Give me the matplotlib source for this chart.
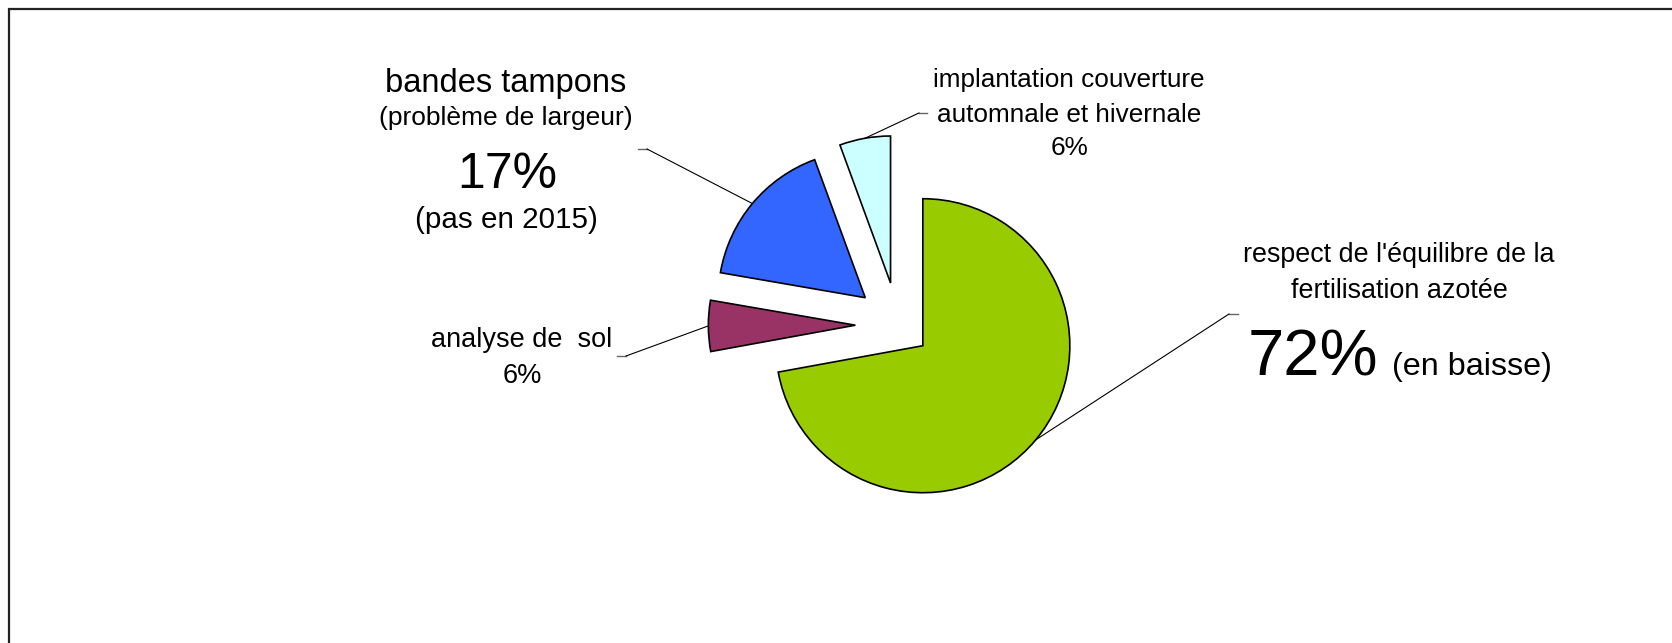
#!/usr/bin/env python3
"""
Camembert des non-conformités (directive nitrates)
"""

import numpy as np
import matplotlib
matplotlib.use("Agg")
import matplotlib.pyplot as plt
from matplotlib.patches import Rectangle

# données (ordre horaire depuis midi)
categories = [
    "respect de l'équilibre de la fertilisation azotée",
    "analyse de sol",
    "bandes tampons",
    "implantation couverture automnale et hivernale",
]
values = [72.2, 5.6, 16.7, 5.6]
pct_labels = ["72%", "6%", "17%", "6%"]
colors = ["#99CC00", "#993366", "#3366FF", "#CCFFFF"]
explode = [0.22, 0.29, 0.29, 0.29]  # fraction du rayon

W, H = 1672, 643
RADIUS = 147
FONT = ["Liberation Sans", "DejaVu Sans"]


def Y(y):
    """coordonnée pixel (depuis le haut) -> coordonnée axe"""
    return H - y


def leader(ax, wedge, x0, x1, y):
    """trait de rappel : petit segment horizontal puis oblique vers l'arc"""
    mid = np.deg2rad((wedge.theta1 + wedge.theta2) / 2)
    cx, cy = wedge.center
    ex = cx + wedge.r * np.cos(mid)
    ey = cy + wedge.r * np.sin(mid)
    ax.plot([x0, x1], [Y(y), Y(y)], color="#666666", lw=1.0)
    ax.plot([x1, ex], [Y(y), ey], color="black", lw=0.8)


def txt(ax, x, y, s, size, ha="center"):
    ax.text(x, Y(y), s, fontsize=size, ha=ha, va="baseline",
            family=FONT, color="black")


def main():
    fig = plt.figure(figsize=(W / 100, H / 100), dpi=100)
    ax = fig.add_axes([0, 0, 1, 1])

    # matplotlib prend explode en unités de données
    wedges, _ = ax.pie(
        values,
        colors=colors,
        explode=[e * RADIUS for e in explode],
        startangle=90,
        counterclock=False,
        center=(898, Y(325)),
        radius=RADIUS,
        wedgeprops=dict(edgecolor="black", linewidth=1.2),
    )

    ax.set_xlim(0, W)
    ax.set_ylim(0, H)
    ax.set_aspect("auto")
    ax.axis("off")

    # cadre (coin haut-gauche seulement visible)
    ax.add_patch(Rectangle((9, -50), W + 100, Y(9) + 50, fill=False,
                           edgecolor="#222222", lw=1.6))

    green, purple, blue, cyan = wedges

    # bandes tampons
    txt(ax, 506, 92, "bandes tampons", 23.5)
    txt(ax, 506, 125, "(problème de largeur)", 19)
    txt(ax, 507, 188, pct_labels[2], 36)
    txt(ax, 506, 228, "(pas en 2015)", 21.3)
    leader(ax, blue, 638, 647, 149)

    # analyse de sol
    txt(ax, 522, 347, "analyse de  sol", 19.5)
    txt(ax, 522, 383, pct_labels[1], 19.5)
    leader(ax, purple, 617, 626, 356)

    # implantation couverture
    txt(ax, 1069, 87, "implantation couverture", 18.8)
    txt(ax, 1069, 122, "automnale et hivernale", 18.8)
    txt(ax, 1069, 155, pct_labels[3], 18.8)
    leader(ax, cyan, 927, 919, 113)

    # fertilisation azotée
    txt(ax, 1399, 262, "respect de l'équilibre de la", 19.4)
    txt(ax, 1399, 298, "fertilisation azotée", 19.4)
    txt(ax, 1248, 375, pct_labels[0], 47, ha="left")
    txt(ax, 1392, 375, "(en baisse)", 23.3, ha="left")
    leader(ax, green, 1238, 1229, 314)

    fig.savefig("out.png", dpi=100, facecolor="white")
    plt.close(fig)


if __name__ == "__main__":
    main()
